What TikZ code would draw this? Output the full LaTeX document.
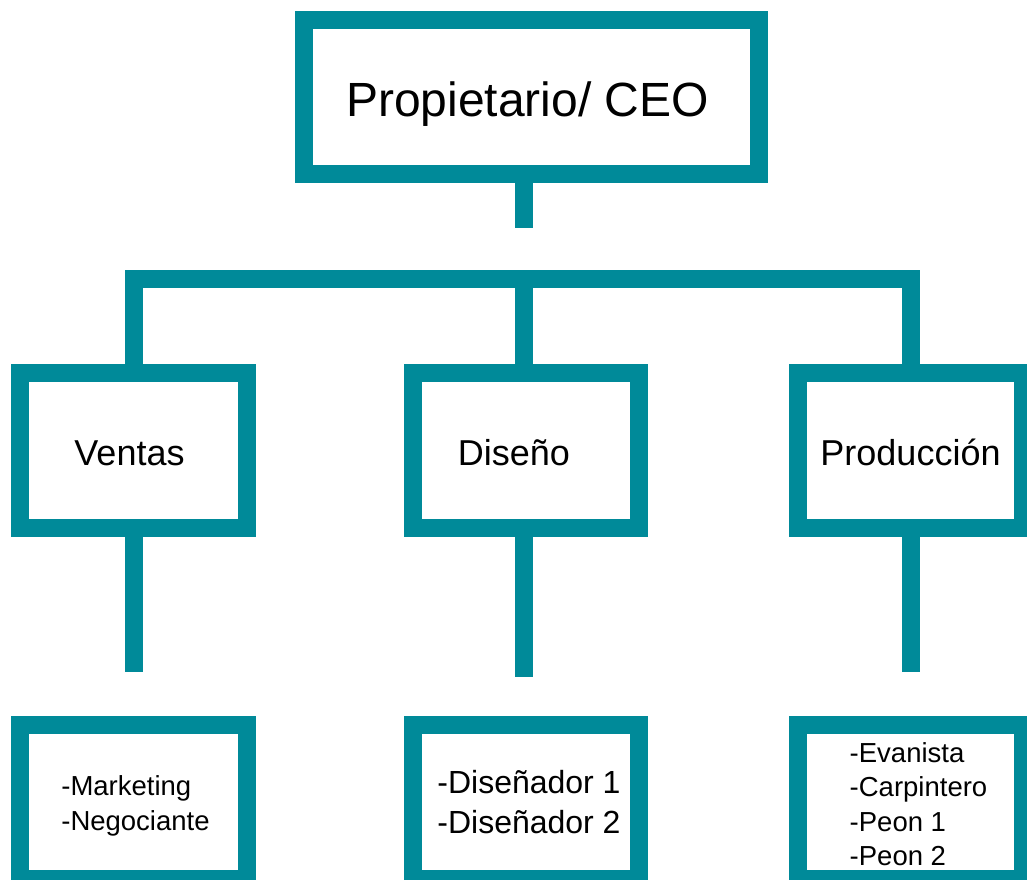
\documentclass[tikz,border=0pt]{standalone}
\usepackage{fontspec}
\setmainfont{Liberation Sans}
\definecolor{orgteal}{RGB}{0,138,153}
\begin{document}
\begin{tikzpicture}[x=1pt,y=-1pt,
  box/.style={draw=orgteal, line width=18pt, fill=white, rectangle, inner sep=0pt},
  txt/.style={inner sep=0pt, align=left, text=black},
  link/.style={draw=orgteal, line width=18pt, line cap=butt, line join=miter},
  big/.style={txt, font=\fontsize{48}{58}\selectfont},
  mid/.style={txt, font=\fontsize{36}{43}\selectfont},
  sub/.style={txt, font=\fontsize{27.5}{34.5}\selectfont},
  subl/.style={txt, font=\fontsize{32}{40}\selectfont}]
\useasboundingbox (0,0) rectangle (1027,879);
% boxes
\node[box, minimum width=455pt, minimum height=154.5pt] (ceo) at (531.5,96.75) {};
\node[box, minimum width=227pt, minimum height=155pt] (ven) at (133.5,450.5) {};
\node[box, minimum width=226pt, minimum height=155pt] (dis) at (526,450.5) {};
\node[box, minimum width=225pt, minimum height=155pt] (prod) at (910.5,450.5) {};
\node[box, minimum width=227pt, minimum height=154pt] (venb) at (133.5,802) {};
\node[box, minimum width=226pt, minimum height=154pt] (disb) at (526,802) {};
\node[box, minimum width=225pt, minimum height=154pt] (prodb) at (910.5,802) {};
% texts
\node[big, xshift=-4pt, yshift=-7pt] (ceot) at (ceo.center) {Propietario/ CEO};
\node[mid, xshift=-4pt, yshift=-3pt] (vent) at (ven.center) {Ventas};
\node[mid, xshift=-12pt, yshift=-2pt] (dist) at (dis.center) {Diseño};
\node[mid, xshift=0pt, yshift=-2pt] (prodt) at (prod.center) {Producción};
\node[sub, xshift=2pt, yshift=-4pt] (venbt) at (venb.center) {-Marketing\\-Negociante};
\node[subl, xshift=3pt, yshift=0pt] (disbt) at (disb.center) {-Diseñador 1\\-Diseñador 2};
\node[sub, xshift=8pt, yshift=-2pt] (prodbt) at (prodb.center) {-Evanista\\-Carpintero\\-Peon 1\\-Peon 2};
% free ends
\coordinate (ceoend) at (524,228);
\coordinate (bar) at (524,279);
\coordinate (venend) at (134,672);
\coordinate (disend) at (523.5,677);
\coordinate (prodend) at (910.5,672);
% connectors
\draw[link] (ceo.south -| ceoend) -- (ceoend);
\draw[link] (ven.north) |- (bar) -| (prod.north);
\draw[link] (bar) -- (dis.north -| bar);
\draw[link] (ven.south) -- (ven.south |- venend);
\draw[link] (dis.south -| disend) -- (disend);
\draw[link] (prod.south) -- (prod.south |- prodend);
\end{tikzpicture}
\end{document}
